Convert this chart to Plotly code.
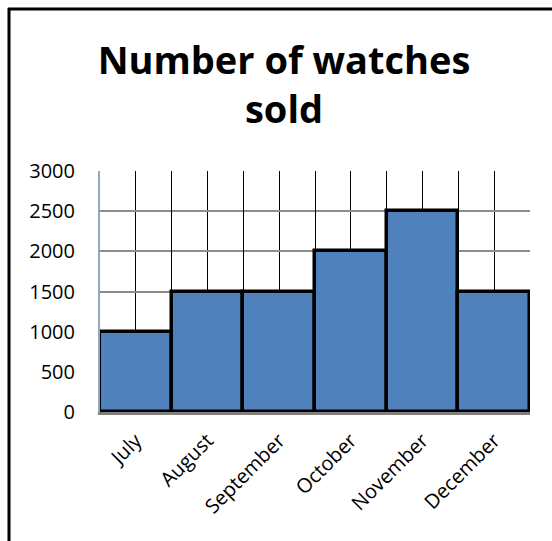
import plotly.graph_objects as go

months = ["July", "August", "September", "October", "November", "December"]
watches_sold = [1000, 1500, 1500, 2000, 2500, 1500]
y_ticks = [0, 500, 1000, 1500, 2000, 2500, 3000]

W, H = 552, 541
L, R, T, B = 100, 22, 171, 129
pw, ph = W - L - R, H - T - B

def px_x(px):
    return (px - L) / pw

def px_y(py):
    return (H - B - py) / ph

FONT = "Open Sans"

fig = go.Figure()
fig.add_trace(go.Bar(
    x=months, y=watches_sold,
    marker=dict(color="#4F81BD", line=dict(color="black", width=3.5)),
    xaxis="x", yaxis="y", hoverinfo="skip", showlegend=False,
))
# invisible trace to carry the boundary gridline axis
fig.add_trace(go.Bar(
    x=months, y=watches_sold, opacity=0,
    xaxis="x2", yaxis="y", hoverinfo="skip", showlegend=False,
))

fig.update_layout(
    width=W, height=H,
    margin=dict(l=L, r=R, t=T, b=B),
    paper_bgcolor="white", plot_bgcolor="white",
    bargap=0,
    title=dict(
        text="<b>Number of watches<br>sold</b>",
        x=284 / W, xref="container", xanchor="center",
        y=1 - 74 / H, yref="container", yanchor="top",
        font=dict(family=FONT, size=38, color="black"),
    ),
    xaxis=dict(
        type="category", categoryorder="array", categoryarray=months,
        range=[-0.5, 5.5],
        showgrid=True, gridcolor="black", gridwidth=1.3,
        tickangle=-45, ticks="", ticklabelstandoff=6,
        tickfont=dict(family=FONT, size=20, color="black"),
        showline=True, linecolor="#7f7f7f", linewidth=3,
        zeroline=False,
    ),
    xaxis2=dict(
        type="category", categoryorder="array", categoryarray=months,
        range=[-0.5, 5.5], overlaying="x", matches="x",
        tickson="boundaries", showgrid=True, gridcolor="black", gridwidth=1.3,
        showticklabels=False, ticks="", showline=False, zeroline=False,
    ),
    yaxis=dict(
        range=[0, 3000], tickvals=y_ticks,
        showgrid=True, gridcolor="#8c8c8c", gridwidth=1.5,
        showline=True, linecolor="#8EA9C8", linewidth=2,
        ticks="", ticklabelstandoff=19,
        tickfont=dict(family=FONT, size=20, color="black"),
        zeroline=False,
    ),
    shapes=[
        dict(type="line", xref="paper", yref="paper",
             x0=px_x(9), x1=px_x(9), y0=px_y(8), y1=px_y(560),
             line=dict(color="black", width=3)),
        dict(type="line", xref="paper", yref="paper",
             x0=px_x(8), x1=px_x(560), y0=px_y(9), y1=px_y(9),
             line=dict(color="black", width=3)),
    ],
)

fig.write_html("out.html")
